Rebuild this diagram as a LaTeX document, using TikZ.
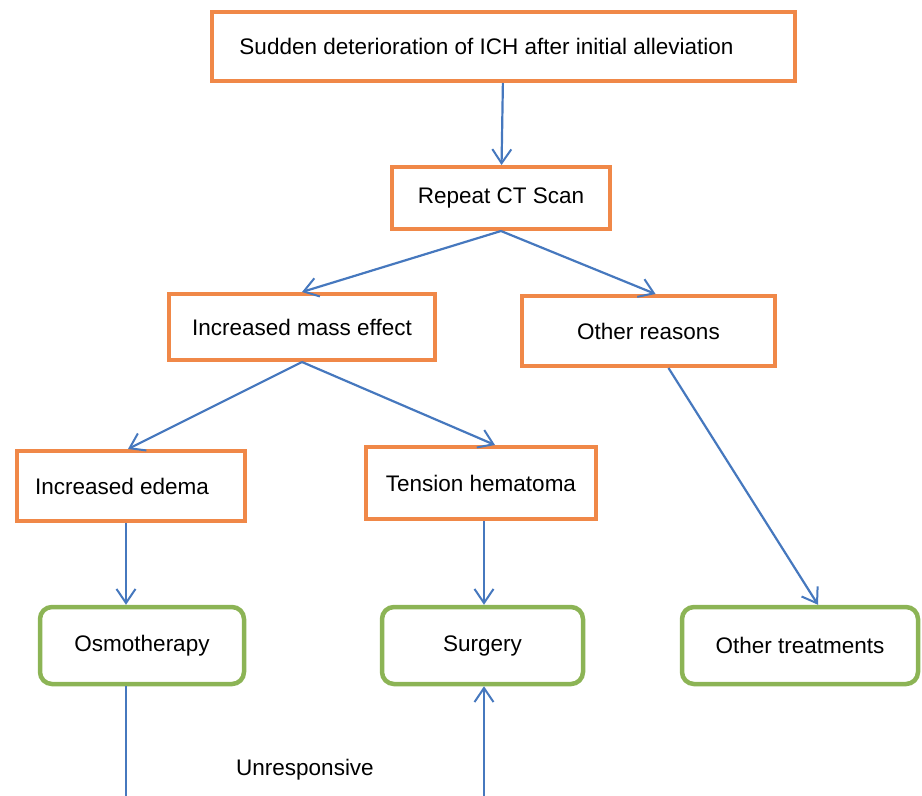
\documentclass[tikz,border=0pt]{standalone}
\usepackage{fontspec}
\setmainfont{Liberation Sans}
\usetikzlibrary{arrows.meta}
\definecolor{boxorange}{RGB}{240,136,72}
\definecolor{boxgreen}{RGB}{140,180,85}
\definecolor{linkblue}{RGB}{70,120,190}
\tikzset{
  stepbox/.style={draw=boxorange, line width=4pt, inner sep=0pt},
  treatbox/.style={draw=boxgreen, line width=4.5pt, rounded corners=12pt, inner sep=0pt},
  link/.style={draw=linkblue, line width=2.2pt, -{Straight Barb[length=14pt,width=19pt,line width=2pt]}},
  plainlink/.style={draw=linkblue, line width=2.2pt}
}
\begin{document}
\begin{tikzpicture}[x=1pt, y=-1pt, font=\fontsize{22.5}{27}\selectfont]
\useasboundingbox (0,0) rectangle (922,796);
            \node (start) [stepbox, minimum width=583pt, minimum height=69pt] at (503.5,46.5) {Sudden deterioration of ICH after initial alleviation\hspace*{34pt}};
            \node (ct) [stepbox, minimum width=218pt, minimum height=62pt] at (501,198) {Repeat CT Scan};
            \node (mass) [stepbox, minimum width=266pt, minimum height=66pt] at (302,327) {Increased mass effect};
            \node (other) [stepbox, minimum width=253pt, minimum height=70pt] at (648.5,331) {Other reasons};
            \node (edema) [stepbox, minimum width=228pt, minimum height=70pt] at (131,486) {Increased edema\hspace*{18pt}};
            \node (tension) [stepbox, minimum width=230pt, minimum height=72pt] at (481,483) {Tension hematoma};
            \node (osmo) [treatbox, minimum width=204pt, minimum height=77pt] at (142,645.5) {Osmotherapy};
            \node (surgery) [treatbox, minimum width=201pt, minimum height=77pt] at (482.5,645.5) {Surgery};
            \node (othertreat) [treatbox, minimum width=236pt, minimum height=77pt] at (800,645.5) {Other treatments};
            \node (unresp) at (305,770) {Unresponsive};
            \coordinate (osmoend) at (126,796);
            \coordinate (surgstart) at (484,796);

            \draw[link] (start) -- (ct);
            \draw[link] (ct.south) -- (mass.north);
            \draw[link] (ct.south) -- ([xshift=7pt]other.north);
            \draw[link] (mass.south) -- ([xshift=-3pt]edema.north);
            \draw[link] (mass.south) -- ([xshift=14pt]tension.north);
            \draw[link] ([xshift=20pt]other.south) -- ([xshift=18pt]othertreat.north);
            \draw[link] ([xshift=-5pt]edema.south) -- ([xshift=-16pt]osmo.north);
            \draw[link] ([xshift=3pt]tension.south) -- ([xshift=1.5pt]surgery.north);
            \draw[plainlink] ([xshift=-16pt]osmo.south) -- (osmoend);
            \draw[link] (surgstart) -- ([xshift=1.5pt]surgery.south);
        \end{tikzpicture}
\end{document}
